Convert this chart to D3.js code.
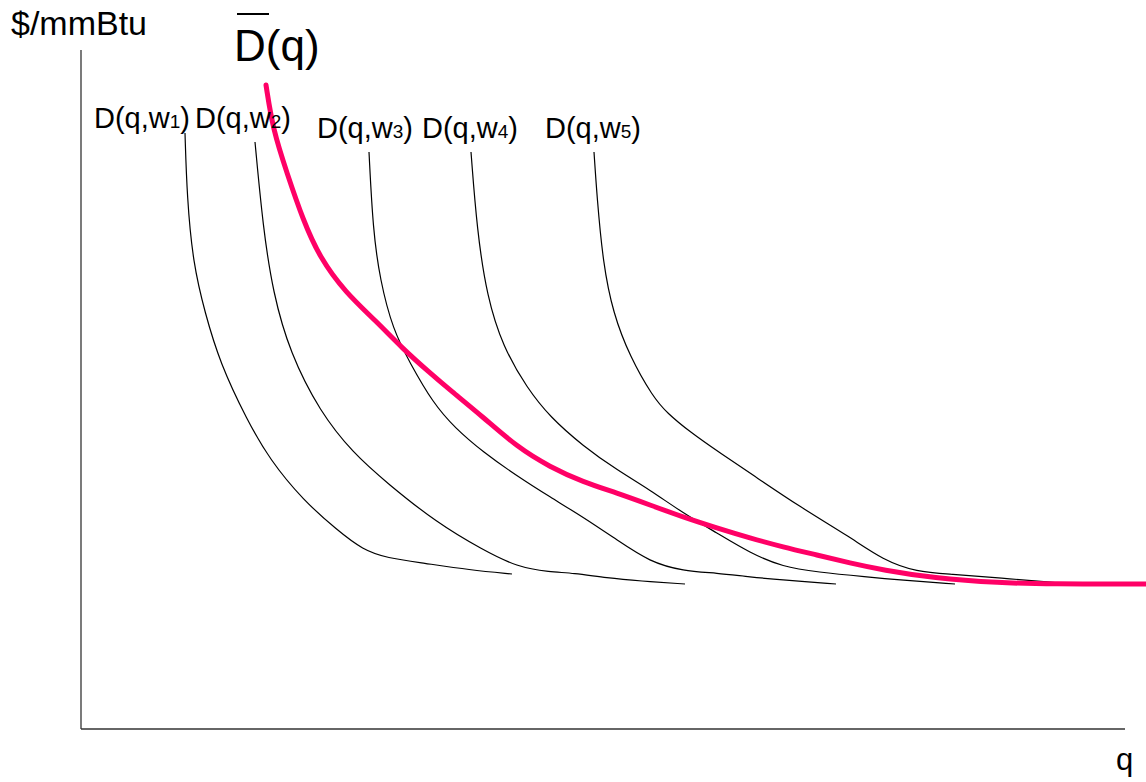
<!DOCTYPE html>
<html>
<head>
<meta charset="utf-8">
<script src="https://cdn.jsdelivr.net/npm/d3@7"></script>
<style>
  html, body { margin: 0; padding: 0; background: #fff; }
  svg { display: block; font-family: "Liberation Sans", Arial, sans-serif; }
</style>
</head>
<body>
<svg id="chart" width="1146" height="782"></svg>
<script>
// ---- data (q = quantity, p = $/mmBtu, arbitrary units) ----
const seriesNames = ["w1", "w2", "w3", "w4", "w5"];
const w1_q = [104,106,112,124,139,166,189,222,256,282,306,342,389,431];
const w1_p = [596,532,466,416,366,309,269,229,199,179,171,166,159,155];
const w2_q = [174,182,192,209,239,272,306,356,402,436,469,492,526,559,604];
const w2_p = [587,502,436,376,317,276,246,206,179,162,157,156,151,148,145];
const w3_q = [288,292,299,312,329,352,374,402,436,469,502,536,569,602,636,669,702,755];
const w3_p = [577,499,449,399,366,326,301,277,253,232,212,189,167,158,156,152,149,145];
const w4_q = [390,396,406,422,446,469,502,536,569,602,636,669,702,736,786,819,874];
const w4_p = [577,499,432,382,341,312,283,259,239,216,196,176,162,157,152,149,145];
const w5_q = [513,516,522,532,549,572,586,609,639,669,719,769,802,836,869,919,979];
const w5_p = [577,532,466,416,372,332,316,297,276,256,222,192,169,157,155,151,146];
const env_q = [185,192,206,222,239,264,296,321,349,369,402,436,469,502,536,569,602,636,669,702,736,769,802,852,919,969,1065];
const env_p = [644,599,556,509,471,437,407,381,356,339,312,282,262,247,236,224,212,201,191,182,174,166,159,151,146,145,145];

const qDomain = [0, 1044];
const pDomain = [0, 679];

// ---- layout ----
const svg = d3.select("#chart");
const x = d3.scaleLinear().domain(qDomain).range([81, 1125]);
const y = d3.scaleLinear().domain(pDomain).range([729, 50]);

const line = d3.line()
  .x(d => x(d[0]))
  .y(d => y(d[1]))
  .curve(d3.curveBasis);

const zip = (a, b) => a.map((v, i) => [v, b[i]]);
const curves = [
  zip(w1_q, w1_p), zip(w2_q, w2_p), zip(w3_q, w3_p), zip(w4_q, w4_p), zip(w5_q, w5_p)
];

// axes (plain lines, no ticks)
svg.append("line")
  .attr("x1", x(0)).attr("x2", x(0)).attr("y1", y(pDomain[1])).attr("y2", y(0))
  .attr("stroke", "#333").attr("stroke-width", 1.3);
svg.append("line")
  .attr("x1", x(0)).attr("x2", x(qDomain[1])).attr("y1", y(0)).attr("y2", y(0))
  .attr("stroke", "#333").attr("stroke-width", 1.6);

// demand curves
svg.selectAll("path.dem")
  .data(curves)
  .enter().append("path")
  .attr("class", "dem")
  .attr("d", line)
  .attr("fill", "none")
  .attr("stroke", "#000")
  .attr("stroke-width", 1.2);

// envelope curve
svg.append("path")
  .attr("d", line(zip(env_q, env_p)))
  .attr("fill", "none")
  .attr("stroke", "#ff0066")
  .attr("stroke-width", 5)
  .attr("stroke-linecap", "round");

// labels
const labelPos = [[94,128],[195,128],[317,138],[422,138],[545,138]];
seriesNames.forEach((n, i) => {
  const t = svg.append("text")
    .attr("x", labelPos[i][0]).attr("y", labelPos[i][1])
    .attr("font-size", 29).attr("fill", "#000");
  t.append("tspan").text("D(q,w");
  t.append("tspan").attr("font-size", 19).text(n.slice(1));
  t.append("tspan").text(")");
});

svg.append("text")
  .attr("x", 11).attr("y", 35)
  .attr("font-size", 34).attr("fill", "#000")
  .text("$/mmBtu");

svg.append("text")
  .attr("x", 1116).attr("y", 770)
  .attr("font-size", 31).attr("fill", "#000")
  .text("q");

// D-bar(q) title
svg.append("text")
  .attr("x", 234).attr("y", 61)
  .attr("font-size", 44).attr("fill", "#000")
  .text("D(q)");
svg.append("line")
  .attr("x1", 237).attr("x2", 269).attr("y1", 14).attr("y2", 14)
  .attr("stroke", "#000").attr("stroke-width", 2);
</script>
</body>
</html>
